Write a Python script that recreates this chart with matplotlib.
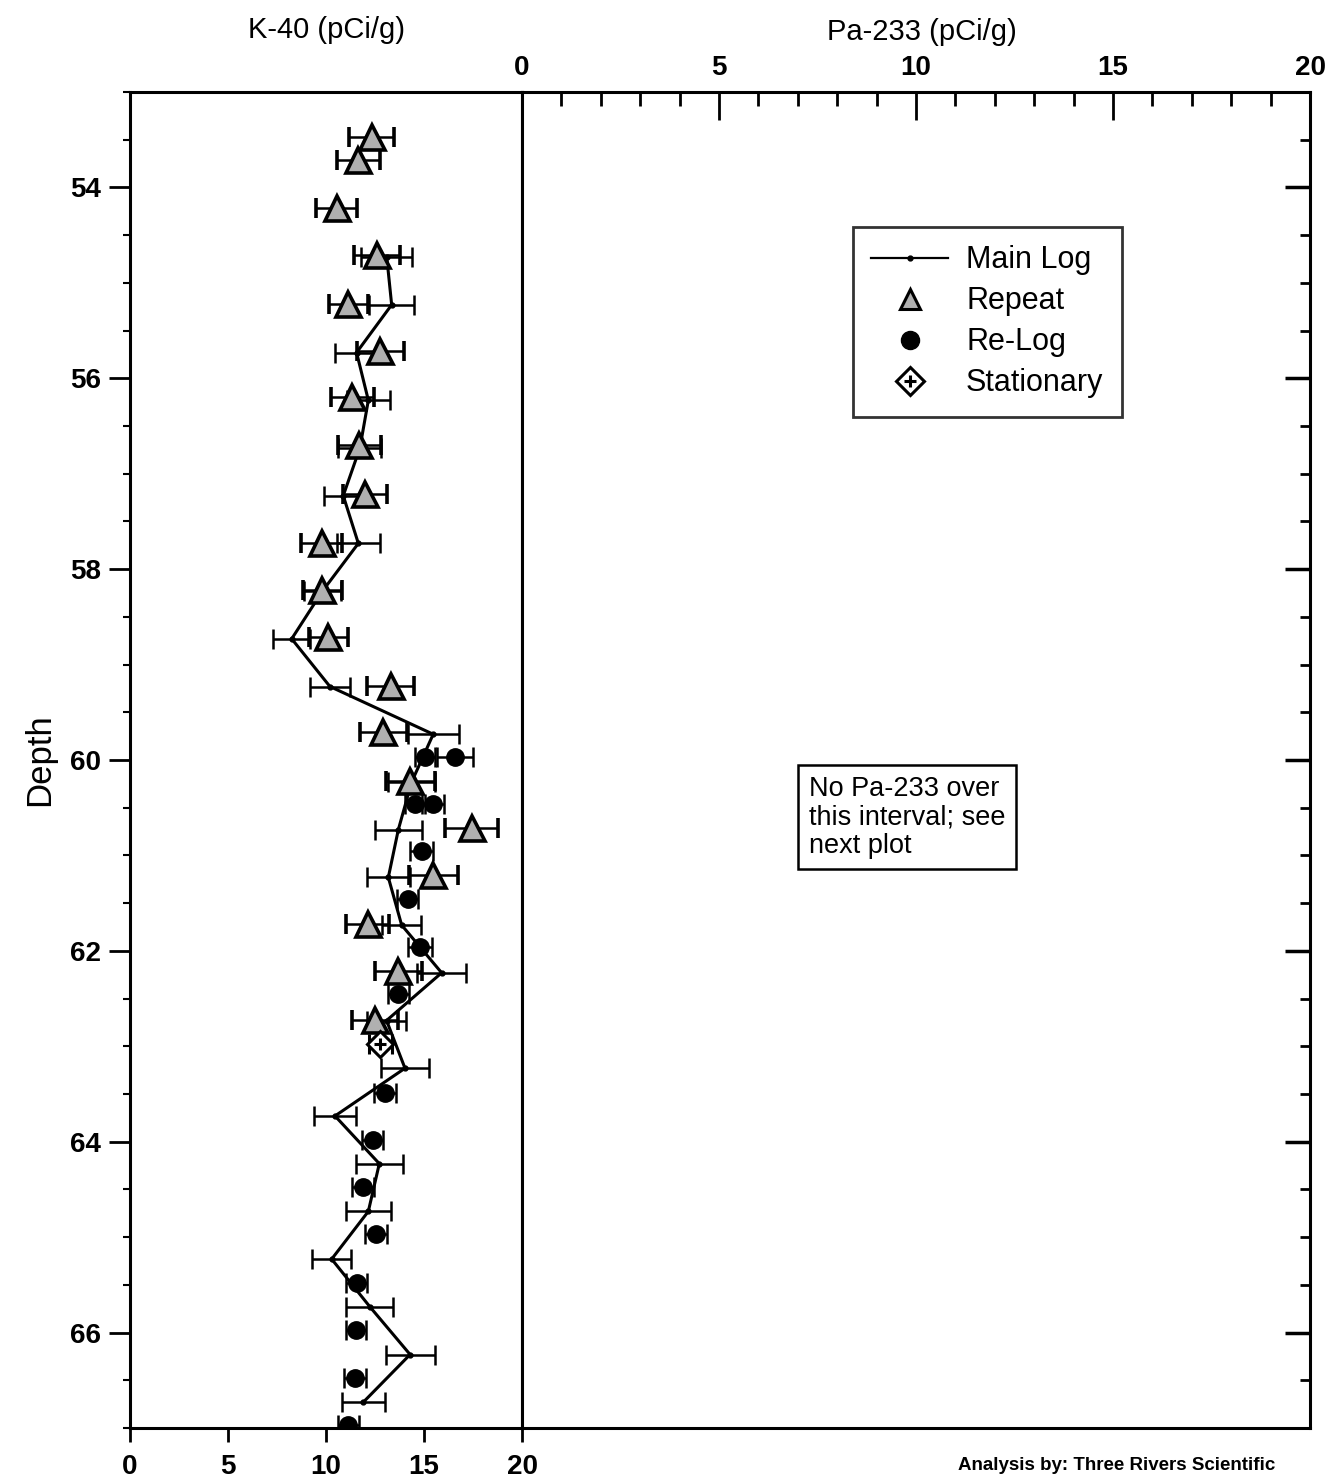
import numpy as np
import matplotlib
matplotlib.use("Agg")
import matplotlib.pyplot as plt
from matplotlib.lines import Line2D
from matplotlib.legend_handler import HandlerTuple
from matplotlib.ticker import MultipleLocator

plt.rcParams['font.family'] = ['Liberation Sans', 'DejaVu Sans']

# main log (K-40)
main_depth = [54.73, 55.23, 55.73, 56.23, 56.73, 57.23, 57.73, 58.23, 58.73,
              59.23, 59.73, 60.23, 60.73, 61.23, 61.73, 62.23, 62.73, 63.23,
              63.73, 64.23, 64.73, 65.23, 65.73, 66.23, 66.73]
main_val = [13.1, 13.35, 11.56, 12.16, 11.73, 10.88, 11.65, 9.82, 8.25,
            10.2, 15.47, 14.37, 13.69, 13.18, 13.86, 15.9, 13.09, 14.03,
            10.46, 12.72, 12.16, 10.29, 12.24, 14.29, 11.9]
main_err = [1.3, 1.15, 1.1, 1.1, 1.1, 1.0, 1.1, 0.95, 0.95,
            1.0, 1.3, 1.2, 1.2, 1.1, 1.0, 1.25, 1.0, 1.2,
            1.05, 1.2, 1.15, 1.0, 1.2, 1.25, 1.1]

# repeat passes
rep_depth = [53.47, 53.71, 54.22, 54.71, 55.22, 55.71, 56.20, 56.70, 57.21,
             57.73, 58.22, 58.71, 59.22, 59.71, 60.22, 60.71, 61.21, 61.72,
             62.21, 62.72]
rep_val = [12.33, 11.65, 10.55, 12.6, 11.14, 12.76, 11.35, 11.7, 11.99,
           9.78, 9.82, 10.12, 13.31, 12.93, 14.29, 17.43, 15.47, 12.12,
           13.69, 12.5]
rep_err = [1.15, 1.1, 1.05, 1.15, 1.0, 1.2, 1.1, 1.1, 1.1,
           1.05, 1.0, 1.0, 1.2, 1.2, 1.25, 1.35, 1.25, 1.1,
           1.2, 1.15]

# re-log
relog_depth = [59.97, 59.97, 60.46, 60.46, 60.95, 61.46, 61.96, 62.45,
               63.49, 63.98, 64.47, 64.97, 65.48, 65.97, 66.48, 66.97]
relog_val = [15.05, 16.58, 14.54, 15.47, 14.88, 14.16, 14.8, 13.69,
             13.01, 12.38, 11.9, 12.55, 11.56, 11.53, 11.48, 11.14]
relog_err = [0.5, 0.9, 0.5, 0.55, 0.6, 0.55, 0.6, 0.55,
             0.55, 0.55, 0.55, 0.55, 0.55, 0.5, 0.55, 0.55]

# stationary
stat_depth = [62.98]
stat_val = [12.78]
stat_err = [0.6]

W, H = 1328, 1484
fig = plt.figure(figsize=(W / 100, H / 100), dpi=100)

x0, x1, x2 = 130, 522, 1310
ytop, ybot = 92, 1428
axL = fig.add_axes([x0 / W, 1 - ybot / H, (x1 - x0) / W, (ybot - ytop) / H])
axR = fig.add_axes([x1 / W, 1 - ybot / H, (x2 - x1) / W, (ybot - ytop) / H])

gray = '#b0b0b0'
ebkw = dict(ecolor='black', elinewidth=1.8, capsize=7.5, capthick=1.8)

axL.errorbar(main_val, main_depth, xerr=main_err, color='black', lw=2.2,
             marker='o', ms=3.5, zorder=3, **ebkw)
axL.errorbar(rep_val, rep_depth, xerr=rep_err, fmt='^', ms=18,
             mfc=gray, mec='black', mew=2.6, zorder=4, **ebkw)
axL.errorbar(relog_val, relog_depth, xerr=relog_err, fmt='o', ms=12.5,
             mfc='black', mec='black', zorder=4, **ebkw)
axL.errorbar(stat_val, stat_depth, xerr=stat_err, fmt='D', ms=13,
             mfc='white', mec='black', mew=2.2, zorder=5, **ebkw)
axL.plot(stat_val, stat_depth, '+', ms=8, mew=2.2, color='black', zorder=6)

for ax in (axL, axR):
    ax.set_ylim(67, 53)
    ax.set_xlim(0, 20)
    for s in ax.spines.values():
        s.set_linewidth(2.2)

axL.yaxis.set_minor_locator(MultipleLocator(0.5))
axL.set_yticks(np.arange(54, 67, 2))
axL.tick_params(axis='y', which='major', direction='out', length=15,
                width=2, labelsize=20, pad=6)
axL.tick_params(axis='y', which='minor', direction='out', length=5, width=1.5)
axL.set_xticks([0, 5, 10, 15, 20])
axL.tick_params(axis='x', direction='out', length=10, width=2,
                labelsize=20, pad=9)
for lab in axL.get_xticklabels() + axL.get_yticklabels():
    lab.set_fontweight('bold')
axL.set_ylabel('Depth', fontsize=25, labelpad=10)
axL.text(0.5, 1 + 62 / (ybot - ytop), 'K-40 (pCi/g)', transform=axL.transAxes,
         ha='center', va='center', fontsize=21)

axR.yaxis.tick_right()
axR.yaxis.set_major_locator(MultipleLocator(2))
axR.yaxis.set_minor_locator(MultipleLocator(0.5))
axR.tick_params(axis='y', which='major', direction='in', length=18,
                width=2.5, labelright=False)
axR.tick_params(axis='y', which='minor', direction='in', length=7, width=2)
axR.xaxis.tick_top()
axR.xaxis.set_major_locator(MultipleLocator(5))
axR.xaxis.set_minor_locator(MultipleLocator(1))
axR.tick_params(axis='x', which='major', direction='in', length=20,
                width=2, labelsize=20, pad=8)
axR.tick_params(axis='x', which='minor', direction='in', length=10, width=2)
for lab in axR.get_xticklabels():
    lab.set_fontweight('bold')
axR.text((922 - x1) / (x2 - x1), 1 + 60 / (ybot - ytop), 'Pa-233 (pCi/g)',
         transform=axR.transAxes, ha='center', va='center', fontsize=21)

h_main = Line2D([], [], color='black', lw=1.6, marker='o', ms=3.5)
h_rep = Line2D([], [], ls='none', marker='^', ms=14, mfc=gray, mec='black', mew=2.2)
h_relog = Line2D([], [], ls='none', marker='o', ms=13, mfc='black', mec='black')
h_stat = (Line2D([], [], ls='none', marker='D', ms=14, mfc='white', mec='black', mew=2.2),
          Line2D([], [], ls='none', marker='+', ms=8, mew=2.2, color='black'))
leg = axR.legend([h_main, h_rep, h_relog, h_stat],
                 ['Main Log', 'Repeat', 'Re-Log', 'Stationary'],
                 handler_map={tuple: HandlerTuple(ndivide=1, pad=0)},
                 loc='upper left',
                 bbox_to_anchor=((853 - x1) / (x2 - x1), 1 - (227 - ytop) / (ybot - ytop)),
                 fontsize=22, frameon=True, fancybox=False, edgecolor='black',
                 handlelength=2.5, labelspacing=0.36, borderpad=0.6,
                 handletextpad=0.6, borderaxespad=0)
leg.get_frame().set_linewidth(2)

axR.text((809 - x1) / (x2 - x1) * 20, 60.6,
         'No Pa-233 over\nthis interval; see\nnext plot', fontsize=19.5,
         ha='left', va='center', linespacing=1.12,
         bbox=dict(boxstyle='square,pad=0.4', fc='white', ec='black', lw=1.8))

fig.text(1117 / W, 1 - 1466 / H, 'Analysis by: Three Rivers Scientific',
         ha='center', va='center', fontsize=13.5, fontweight='bold')

fig.savefig('out.png', dpi=100)
